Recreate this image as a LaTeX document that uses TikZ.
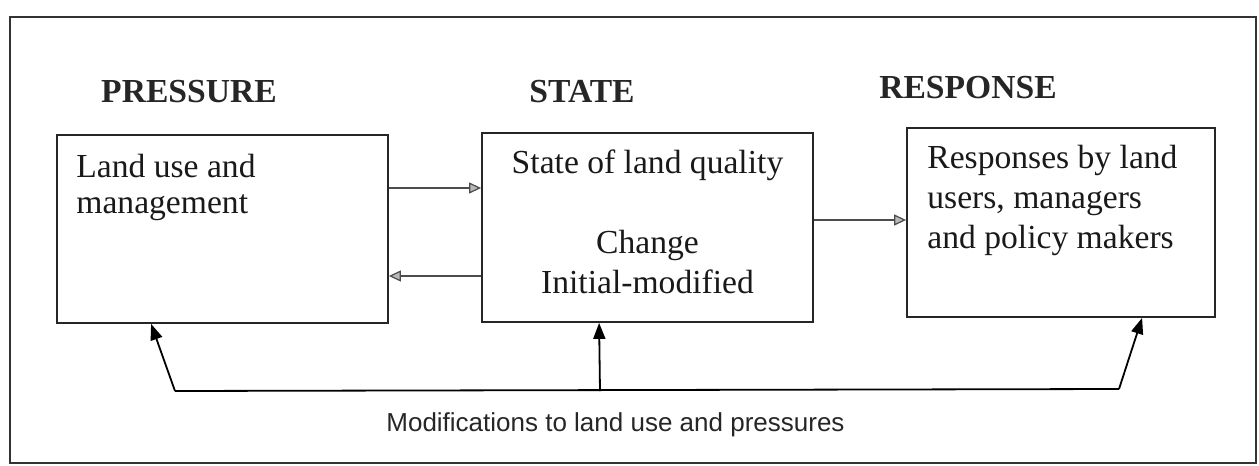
\documentclass[tikz,border=0pt]{standalone}
\usepackage{fontspec}
\setmainfont{Liberation Serif}
\newfontfamily\labelsans{Liberation Sans}
\usetikzlibrary{arrows.meta,calc}
\tikzset{
  boxst/.style={draw=black!85, line width=0.9pt, rectangle, inner sep=0pt},
  headst/.style={font=\fontsize{16.8}{20}\selectfont\bfseries, text=black!85, inner sep=0pt, anchor=base},
  bodyst/.style={font=\fontsize{16.8}{20}\selectfont, text=black!90, inner sep=0pt},
  lw/.style={bodyst, anchor=base west},
  lc/.style={bodyst, anchor=base},
  thinarrow/.style={draw=black!70, line width=0.6pt, -{Triangle[length=6pt,width=5.5pt,fill=gray!55]}},
  feedline/.style={draw=black, line width=0.9pt},
  feedarrow/.style={feedline, -{Triangle[length=8pt,width=6pt]}}
}
\begin{document}
\begin{tikzpicture}[x=0.5pt,y=-0.5pt]
\useasboundingbox (0,0) rectangle (1259,466);
% outer frame
\draw[black!80, line width=0.8pt] (10,17) rectangle (1256,463);
% headers
\node[headst] (hp) at (189,102) {PRESSURE};
\node[headst] (hs) at (582,102) {STATE};
\node[headst] (hr) at (968,98) {RESPONSE};
% boxes
\node[boxst, minimum width=165.5pt, minimum height=94pt] (b1) at (222.5,229) {};
\node[boxst, minimum width=165.5pt, minimum height=94.5pt] (b2) at (647.5,227.5) {};
\node[boxst, minimum width=154pt, minimum height=94.5pt] (b3) at (1061,222.5) {};
% box texts
\node[lw] (t1a) at (76,177) {Land use and};
\node[lw] (t1b) at (76,213) {management};
\node[lc] (t2a) at (647.5,173) {State of land quality};
\node[lc] (t2b) at (647.5,253) {Change};
\node[lc] (t2c) at (647.5,293) {Initial-modified};
\node[lw] (t3a) at (927,168) {Responses by land};
\node[lw] (t3b) at (927,208) {users, managers};
\node[lw] (t3c) at (927,248) {and policy makers};
% horizontal arrows
\draw[thinarrow] (b1.east |- 0,188) -- (b2.west |- 0,188);
\draw[thinarrow] (b2.west |- 0,276) -- (b1.east |- 0,276);
\draw[thinarrow] (b2.east |- 0,220) -- (b3.west |- 0,220);
% feedback loop
\coordinate (bl) at (175,391);
\coordinate (bm) at (600,391);
\coordinate (br) at (1119,389);
\draw[feedline] (bl) -- (br);
\draw[feedarrow] (bl) -- ($(b1.south west)+(95,0)$);
\draw[feedarrow] (bm) -- ($(b2.south west)+(118,0)$);
\draw[feedarrow] (br) -- ($(b3.south west)+(236,0)$);
\node[font=\labelsans\fontsize{13}{15}\selectfont, text=black!85, anchor=base west, inner sep=0pt] (lab) at (386,431) {Modifications to land use and pressures};
\end{tikzpicture}
\end{document}
